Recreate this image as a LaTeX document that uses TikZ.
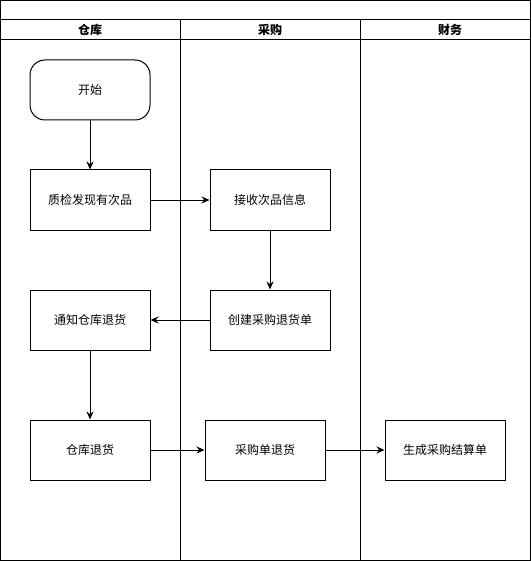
\documentclass[tikz,border=0pt]{standalone}
\usepackage{fontspec}
\setmainfont{Noto Sans CJK SC}
\usepackage{tikz}
\usetikzlibrary{arrows.meta,positioning}

\begin{document}
\begin{tikzpicture}[x=1pt, y=-1pt, line width=1pt,
  lane/.style={font=\fontsize{12}{14}\selectfont\bfseries},
  task/.style={draw, fill=white, minimum width=120pt, minimum height=60pt, inner sep=0pt, align=center, font=\fontsize{12}{14}\selectfont},
  startbox/.style={task, rounded corners=15pt},
  flow/.style={-{Stealth[length=8pt,width=7pt]}}
]
\useasboundingbox (0,0) rectangle (531,561);
% pool frame and lanes
\draw (0.5,0.5) rectangle (530.5,560.5);
\draw (0.5,20) -- (530.5,20);
\draw (0.5,40) -- (530.5,40);
\draw (180,20) -- (180,560.5);
\draw (360,20) -- (360,560.5);
\node[lane] (wh) at (90,30) {仓库};
\node[lane] (buy) at (270,30) {采购};
\node[lane] (fin) at (450,30) {财务};
% steps
\node[startbox] (start) at (90,90) {开始};
\node[task] (check) at (90,200) {质检发现有次品};
\node[task] (recv) at (270,200) {接收次品信息};
\node[task] (order) at (270,320) {创建采购退货单};
\node[task] (notify) at (90,320) {通知仓库退货};
\node[task] (ret) at (90,450) {仓库退货};
\node[task] (buyret) at (265,450) {采购单退货};
\node[task] (settle) at (445,450) {生成采购结算单};
\draw[flow] (start) -- (check);
\draw[flow] (check) -- (recv);
\draw[flow] (recv) -- (order);
\draw[flow] (order) -- (notify);
\draw[flow] (notify) -- (ret);
\draw[flow] (ret) -- (buyret);
\draw[flow] (buyret) -- (settle);
\end{tikzpicture}
\end{document}
